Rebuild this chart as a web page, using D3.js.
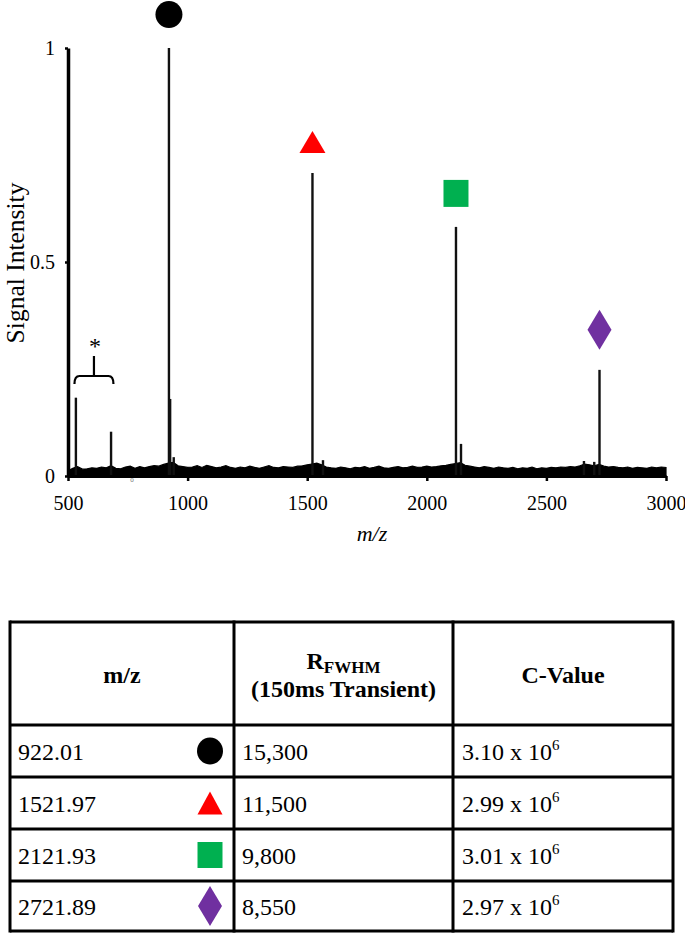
<!DOCTYPE html>
<html>
<head>
<meta charset="utf-8">
<script src="https://cdn.jsdelivr.net/npm/d3@7"></script>
<style>
  html, body { margin: 0; padding: 0; background: #fff; }
  svg { display: block; }
  svg text { font-family: "Times New Roman", "Liberation Serif", "DejaVu Serif", serif !important; fill: #000; }
</style>
</head>
<body>
<svg id="chart" width="685" height="935" font-family="Liberation Serif"></svg>
<script>
// ---------------- DATA ----------------
const xTicks = [500, 1000, 1500, 2000, 2500, 3000];
const yTicks = [0, 0.5, 1];
const yTickLabels = ["0", "0.5", "1"];

// peak centroids (m/z) and relative intensities
const peakMz  = [533, 680, 922, 927, 942, 1522, 1566, 2122, 2143, 2657, 2700, 2722];
const peakInt = [0.183, 0.1035, 1.0, 0.18, 0.044, 0.708, 0.037, 0.582, 0.075, 0.035, 0.033, 0.248];

// baseline noise envelope, sampled every 20 m/z from 500 to 3000
const noiseStart = 500, noiseStep = 20;
const noiseInt = [
  0.012,0.018,0.022,0.016,0.017,0.019,0.018,0.021,0.019,0.024,
  0.018,0.017,0.021,0.023,0.018,0.022,0.019,0.022,0.024,0.023,
  0.027,0.030,0.032,0.024,0.022,0.020,0.021,0.024,0.020,0.025,
  0.022,0.019,0.021,0.024,0.020,0.018,0.021,0.019,0.023,0.020,
  0.018,0.021,0.024,0.020,0.019,0.022,0.021,0.020,0.023,0.024,
  0.026,0.028,0.030,0.026,0.021,0.019,0.018,0.021,0.019,0.017,
  0.020,0.019,0.022,0.018,0.020,0.023,0.019,0.018,0.020,0.022,
  0.019,0.020,0.023,0.020,0.021,0.023,0.021,0.022,0.024,0.025,
  0.027,0.029,0.031,0.025,0.023,0.021,0.019,0.022,0.020,0.018,
  0.021,0.019,0.018,0.020,0.017,0.019,0.018,0.021,0.017,0.019,
  0.018,0.020,0.019,0.021,0.020,0.022,0.021,0.024,0.028,0.026,
  0.024,0.027,0.023,0.021,0.022,0.020,0.019,0.021,0.018,0.020,
  0.019,0.018,0.021,0.019,0.021,0.020
];

// labelled peaks (table)
const tableMz     = ["922.01", "1521.97", "2121.93", "2721.89"];
const labelMz     = [922, 1522, 2122, 2722];
const labelInt    = [1.0, 0.708, 0.582, 0.248];
const rFwhm       = ["15,300", "11,500", "9,800", "8,550"];
const cValue      = ["3.10", "2.99", "3.01", "2.97"];
const cExponent   = ["6", "6", "6", "6"];
const markerShape = ["circle", "triangle", "square", "diamond"];
const markerColor = ["#000000", "#ff0000", "#00b050", "#7030a0"];

// bracketed impurity peaks
const bracketMz = [527, 690];

// ---------------- CHART ----------------
const FONT = "'Times New Roman', 'Liberation Serif', serif";
const svg = d3.select("#chart");
svg.append("rect").attr("width", 685).attr("height", 935).attr("fill", "#fff");

const x = d3.scaleLinear().domain([500, 3000]).range([68, 666]);
const y = d3.scaleLinear().domain([0, 1]).range([476, 48]);

function markerPath(shape, cx, cy, w, h) {
  const p = d3.path();
  if (shape === "circle") {
    const k = 0.5523, rx = w / 2, ry = h / 2;
    p.moveTo(cx + rx, cy);
    p.bezierCurveTo(cx + rx, cy + k * ry, cx + k * rx, cy + ry, cx, cy + ry);
    p.bezierCurveTo(cx - k * rx, cy + ry, cx - rx, cy + k * ry, cx - rx, cy);
    p.bezierCurveTo(cx - rx, cy - k * ry, cx - k * rx, cy - ry, cx, cy - ry);
    p.bezierCurveTo(cx + k * rx, cy - ry, cx + rx, cy - k * ry, cx + rx, cy);
  } else if (shape === "triangle") {
    p.moveTo(cx, cy - h / 2); p.lineTo(cx + w / 2, cy + h / 2); p.lineTo(cx - w / 2, cy + h / 2);
  } else if (shape === "square") {
    p.rect(cx - w / 2, cy - h / 2, w, h);
  } else {
    p.moveTo(cx, cy - h / 2); p.lineTo(cx + w / 2, cy); p.lineTo(cx, cy + h / 2); p.lineTo(cx - w / 2, cy);
  }
  p.closePath();
  return p.toString();
}
const markerSize = {
  circle: [27, 27], triangle: [26, 22], square: [25, 27], diamond: [24, 40]
};
const tableMarkerSize = {
  circle: [26, 27], triangle: [25, 23], square: [25, 26], diamond: [24, 40]
};

function txt(sel) { return sel.style("font-family", FONT).attr("font-family", "Liberation Serif"); }

// noise band
const noiseData = noiseInt.map((v, i) => ({ mz: noiseStart + i * noiseStep, v }));
svg.append("path")
  .datum(noiseData)
  .attr("d", d3.area().x(d => x(d.mz)).y0(y(0)).y1(d => y(d.v)))
  .attr("fill", "#000")
  .attr("stroke", "#000")
  .attr("stroke-width", 1.2);

// peaks
svg.append("g").selectAll("line")
  .data(peakMz.map((m, i) => ({ m, v: peakInt[i] })))
  .join("line")
  .attr("x1", d => x(d.m)).attr("x2", d => x(d.m))
  .attr("y1", y(0)).attr("y2", d => y(d.v))
  .attr("stroke", "#111")
  .attr("stroke-width", 2.4);

// axes
const xAxis = d3.axisBottom(x).tickValues(xTicks).tickSize(5).tickSizeOuter(0).tickPadding(15)
  .tickFormat(d3.format("d"));
const gx = svg.append("g").attr("transform", `translate(0,${y(0)})`).call(xAxis)
  .attr("font-family", "Liberation Serif");
gx.select(".domain").attr("stroke", "#000").attr("stroke-width", 3);
gx.selectAll(".tick line").attr("stroke", "#000").attr("stroke-width", 2.5);
txt(gx.selectAll(".tick text")).style("font-size", "20px");

const yAxis = d3.axisLeft(y).tickValues(yTicks).tickSize(3).tickSizeOuter(0).tickPadding(10)
  .tickFormat((d, i) => yTickLabels[i]);
const gy = svg.append("g").attr("transform", `translate(${x(500)},0)`).call(yAxis)
  .attr("font-family", "Liberation Serif");
gy.select(".domain").attr("stroke", "#000").attr("stroke-width", 3.5);
gy.selectAll(".tick line").attr("stroke", "#000").attr("stroke-width", 2.5);
txt(gy.selectAll(".tick text")).style("font-size", "20px");

// axis titles
txt(svg.append("text"))
  .attr("x", (x(500) + x(3000)) / 2 + 5).attr("y", 541)
  .attr("text-anchor", "middle")
  .style("font-size", "22px").style("font-style", "italic")
  .text("m/z");
txt(svg.append("text"))
  .attr("transform", `translate(24,${(y(0) + y(1)) / 2 + 1}) rotate(-90)`)
  .attr("text-anchor", "middle")
  .style("font-size", "25.5px")
  .text("Signal Intensity");

// tiny stray glyph under axis
txt(svg.append("text")).attr("x", 132).attr("y", 482).attr("text-anchor", "middle")
  .style("font-size", "7px").style("fill", "#777").text("0");

// bracket with asterisk
const bx0 = x(bracketMz[0]), bx1 = x(bracketMz[1]), bmid = (bx0 + bx1) / 2;
const by = 376;
svg.append("path")
  .attr("d", `M${bx0},${by + 8} Q${bx0},${by} ${bx0 + 5},${by} L${bx1 - 5},${by} Q${bx1},${by} ${bx1},${by + 8} M${bmid},${by} L${bmid},${by - 20}`)
  .attr("fill", "none").attr("stroke", "#000").attr("stroke-width", 2.2);
txt(svg.append("text")).attr("x", bmid + 1).attr("y", 354).attr("text-anchor", "middle")
  .style("font-size", "24px").text("*");

// markers over labelled peaks
labelMz.forEach((m, i) => {
  const [w, h] = markerSize[markerShape[i]];
  const cy = y(labelInt[i]) - 20 - h / 2;
  svg.append("path")
    .attr("d", markerPath(markerShape[i], x(m), cy, w, h))
    .attr("fill", markerColor[i]);
});

// ---------------- TABLE ----------------
const colX = [10, 234, 453, 673];
const rowY = [622, 725, 777, 829, 881, 931];
const tg = svg.append("g");

const hMid = (rowY[0] + rowY[1]) / 2;
txt(tg.append("text")).attr("x", (colX[0] + colX[1]) / 2).attr("y", hMid + 9)
  .attr("text-anchor", "middle").style("font-size", "24px").style("font-weight", "bold").text("m/z");
const rt = txt(tg.append("text")).attr("x", (colX[1] + colX[2]) / 2).attr("y", 669)
  .attr("text-anchor", "middle").style("font-size", "24px").style("font-weight", "bold");
rt.append("tspan").text("R");
rt.append("tspan").attr("dy", 4).style("font-size", "17px").text("FWHM");
txt(tg.append("text")).attr("x", (colX[1] + colX[2]) / 2).attr("y", 697)
  .attr("text-anchor", "middle").style("font-size", "24px").style("font-weight", "bold").text("(150ms Transient)");
txt(tg.append("text")).attr("x", (colX[2] + colX[3]) / 2).attr("y", hMid + 9)
  .attr("text-anchor", "middle").style("font-size", "24px").style("font-weight", "bold").text("C-Value");

tableMz.forEach((mz, i) => {
  const top = rowY[i + 1], bot = rowY[i + 2];
  const mid = (top + bot) / 2;
  const base = mid + 9;
  txt(tg.append("text")).attr("x", colX[0] + 8).attr("y", base).style("font-size", "24px").text(mz);
  const [tw, th] = tableMarkerSize[markerShape[i]];
  tg.append("path").attr("d", markerPath(markerShape[i], 210, mid, tw, th)).attr("fill", markerColor[i]);
  txt(tg.append("text")).attr("x", colX[1] + 8).attr("y", base).style("font-size", "24px").text(rFwhm[i]);
  const ct = txt(tg.append("text")).attr("x", colX[2] + 9).attr("y", base).style("font-size", "24px");
  ct.append("tspan").text(cValue[i] + " x 10");
  ct.append("tspan").attr("dy", -10).style("font-size", "15px").text(cExponent[i]);
});

rowY.forEach(yy => {
  tg.append("line").attr("x1", colX[0]).attr("x2", colX[3]).attr("y1", yy).attr("y2", yy)
    .attr("stroke", "#000").attr("stroke-width", 3);
});
colX.forEach(xx => {
  tg.append("line").attr("x1", xx).attr("x2", xx).attr("y1", rowY[0] - 1.5).attr("y2", rowY[rowY.length - 1] + 1.5)
    .attr("stroke", "#000").attr("stroke-width", 3);
});
</script>
</body>
</html>
